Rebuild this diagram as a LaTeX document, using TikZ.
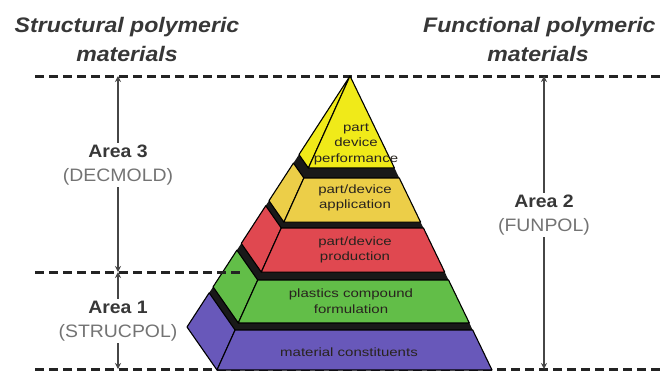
\documentclass[tikz,border=0pt]{standalone}
\usepackage{fontspec}
\setmainfont{Liberation Sans}
\newfontfamily\hdfont[FakeStretch=1.1]{Liberation Sans}
\newfontfamily\arfont[FakeStretch=1.08]{Liberation Sans}
\newfontfamily\pyfont[FakeStretch=1.25]{Liberation Sans}
\usetikzlibrary{calc,arrows.meta}
\definecolor{hdgray}{RGB}{55,55,55}
\definecolor{codegray}{RGB}{115,115,115}
\definecolor{arrgray}{RGB}{70,70,70}
\definecolor{dashc}{RGB}{35,35,35}
\definecolor{pytext}{RGB}{40,35,30}
\definecolor{cyellow}{RGB}{240,234,25}
\definecolor{cgold}{RGB}{236,206,72}
\definecolor{cred}{RGB}{224,72,80}
\definecolor{cgreen}{RGB}{98,190,72}
\definecolor{cpurple}{RGB}{104,88,186}
\newcommand\pyrslab[3]{%
  \filldraw[slab, fill=#3] ($(A)!#1!(BL)$) -- ($(A)!#1!(FL)$) -- ($(A)!#2!(FL)$) -- ($(A)!#2!(BL)$) -- cycle;
  \filldraw[slab, fill=#3] ($(A)!#1!(FL)$) -- ($(A)!#1!(FR)$) -- ($(A)!#2!(FR)$) -- ($(A)!#2!(FL)$) -- cycle;}
\begin{document}
\begin{tikzpicture}[x=1pt,y=-1pt,
  slab/.style={draw=black, line width=1.1pt, line join=round},
  dashline/.style={draw=dashc, line width=3pt, dash pattern=on 9pt off 5pt},
  hdtext/.style={text=hdgray, font=\hdfont\bfseries\itshape\fontsize{21}{25}\selectfont, inner sep=0pt, anchor=base},
  arealabel/.style={align=center, inner sep=2pt, font=\arfont\fontsize{18}{24}\selectfont},
  pytxt/.style={align=center, text=pytext, inner sep=0pt, font=\pyfont\fontsize{12}{15.5}\selectfont},
  span/.style={draw=arrgray, line width=2.6pt, -{Stealth[length=6pt,width=6pt]}}]
\useasboundingbox (0,0) rectangle (671,372);

% headers
\node[hdtext] (h1) at (127,32) {Structural polymeric};
\node[hdtext] (h2) at (127,61) {materials};
\node[hdtext, anchor=base west] (h3) at (423,32) {Functional polymeric};
\node[hdtext] (h4) at (538,61) {materials};

% dashed level lines
\coordinate (dtl) at (35,76);  \coordinate (dtr) at (660,76);
\coordinate (dml) at (35,272); \coordinate (dmr) at (242,272);
\coordinate (dbl) at (35,369.5); \coordinate (dbr) at (660,369.5);
\draw[dashline] (dtl) -- (dtr);
\draw[dashline] (dbl) -- (dbr);

% pyramid
\coordinate (A) at (350,76);
\coordinate (FL) at (217,370);
\coordinate (FR) at (492,370);
\coordinate (BL) at (187,327);
\fill[black!90] (A) -- (FR) -- (FL) -- (BL) -- cycle;
\pyrslab{0}{0.313}{cyellow}
\pyrslab{0.347}{0.497}{cgold}
\pyrslab{0.517}{0.667}{cred}
\pyrslab{0.694}{0.840}{cgreen}
\pyrslab{0.864}{1}{cpurple}

\node[pytxt] (p1) at (356,144) {part\\device\\performance};
\node[pytxt] (p2) at (355,198) {part/device\\application};
\node[pytxt] (p3) at (355,250) {part/device\\production};
\node[pytxt] (p4) at (351,301) {plastics compound\\formulation};
\node[pytxt] (p5) at (349,352) {material constituents};

\draw[dashline] (dml) -- (dmr);

% area labels
\node[arealabel] (a3) at (118,165) {{\bfseries\color{hdgray}Area 3}\\{\color{codegray}(DECMOLD)}};
\node[arealabel] (a1) at (118,321) {{\bfseries\color{hdgray}Area 1}\\{\color{codegray}(STRUCPOL)}};
\node[arealabel] (a2) at (544,215) {{\bfseries\color{hdgray}Area 2}\\{\color{codegray}(FUNPOL)}};

\coordinate (l3t) at (118,76);  \coordinate (l3b) at (118,272);
\coordinate (l1t) at (118,272); \coordinate (l1b) at (118,369);
\coordinate (r2t) at (544,76);  \coordinate (r2b) at (544,369);
\draw[span] (a3.north) -- (l3t);
\draw[span] (a3.south) -- (l3b);
\draw[span] (a1.north) -- (l1t);
\draw[span] (a1.south) -- (l1b);
\draw[span] (a2.north) -- (r2t);
\draw[span] (a2.south) -- (r2b);
\end{tikzpicture}
\end{document}
